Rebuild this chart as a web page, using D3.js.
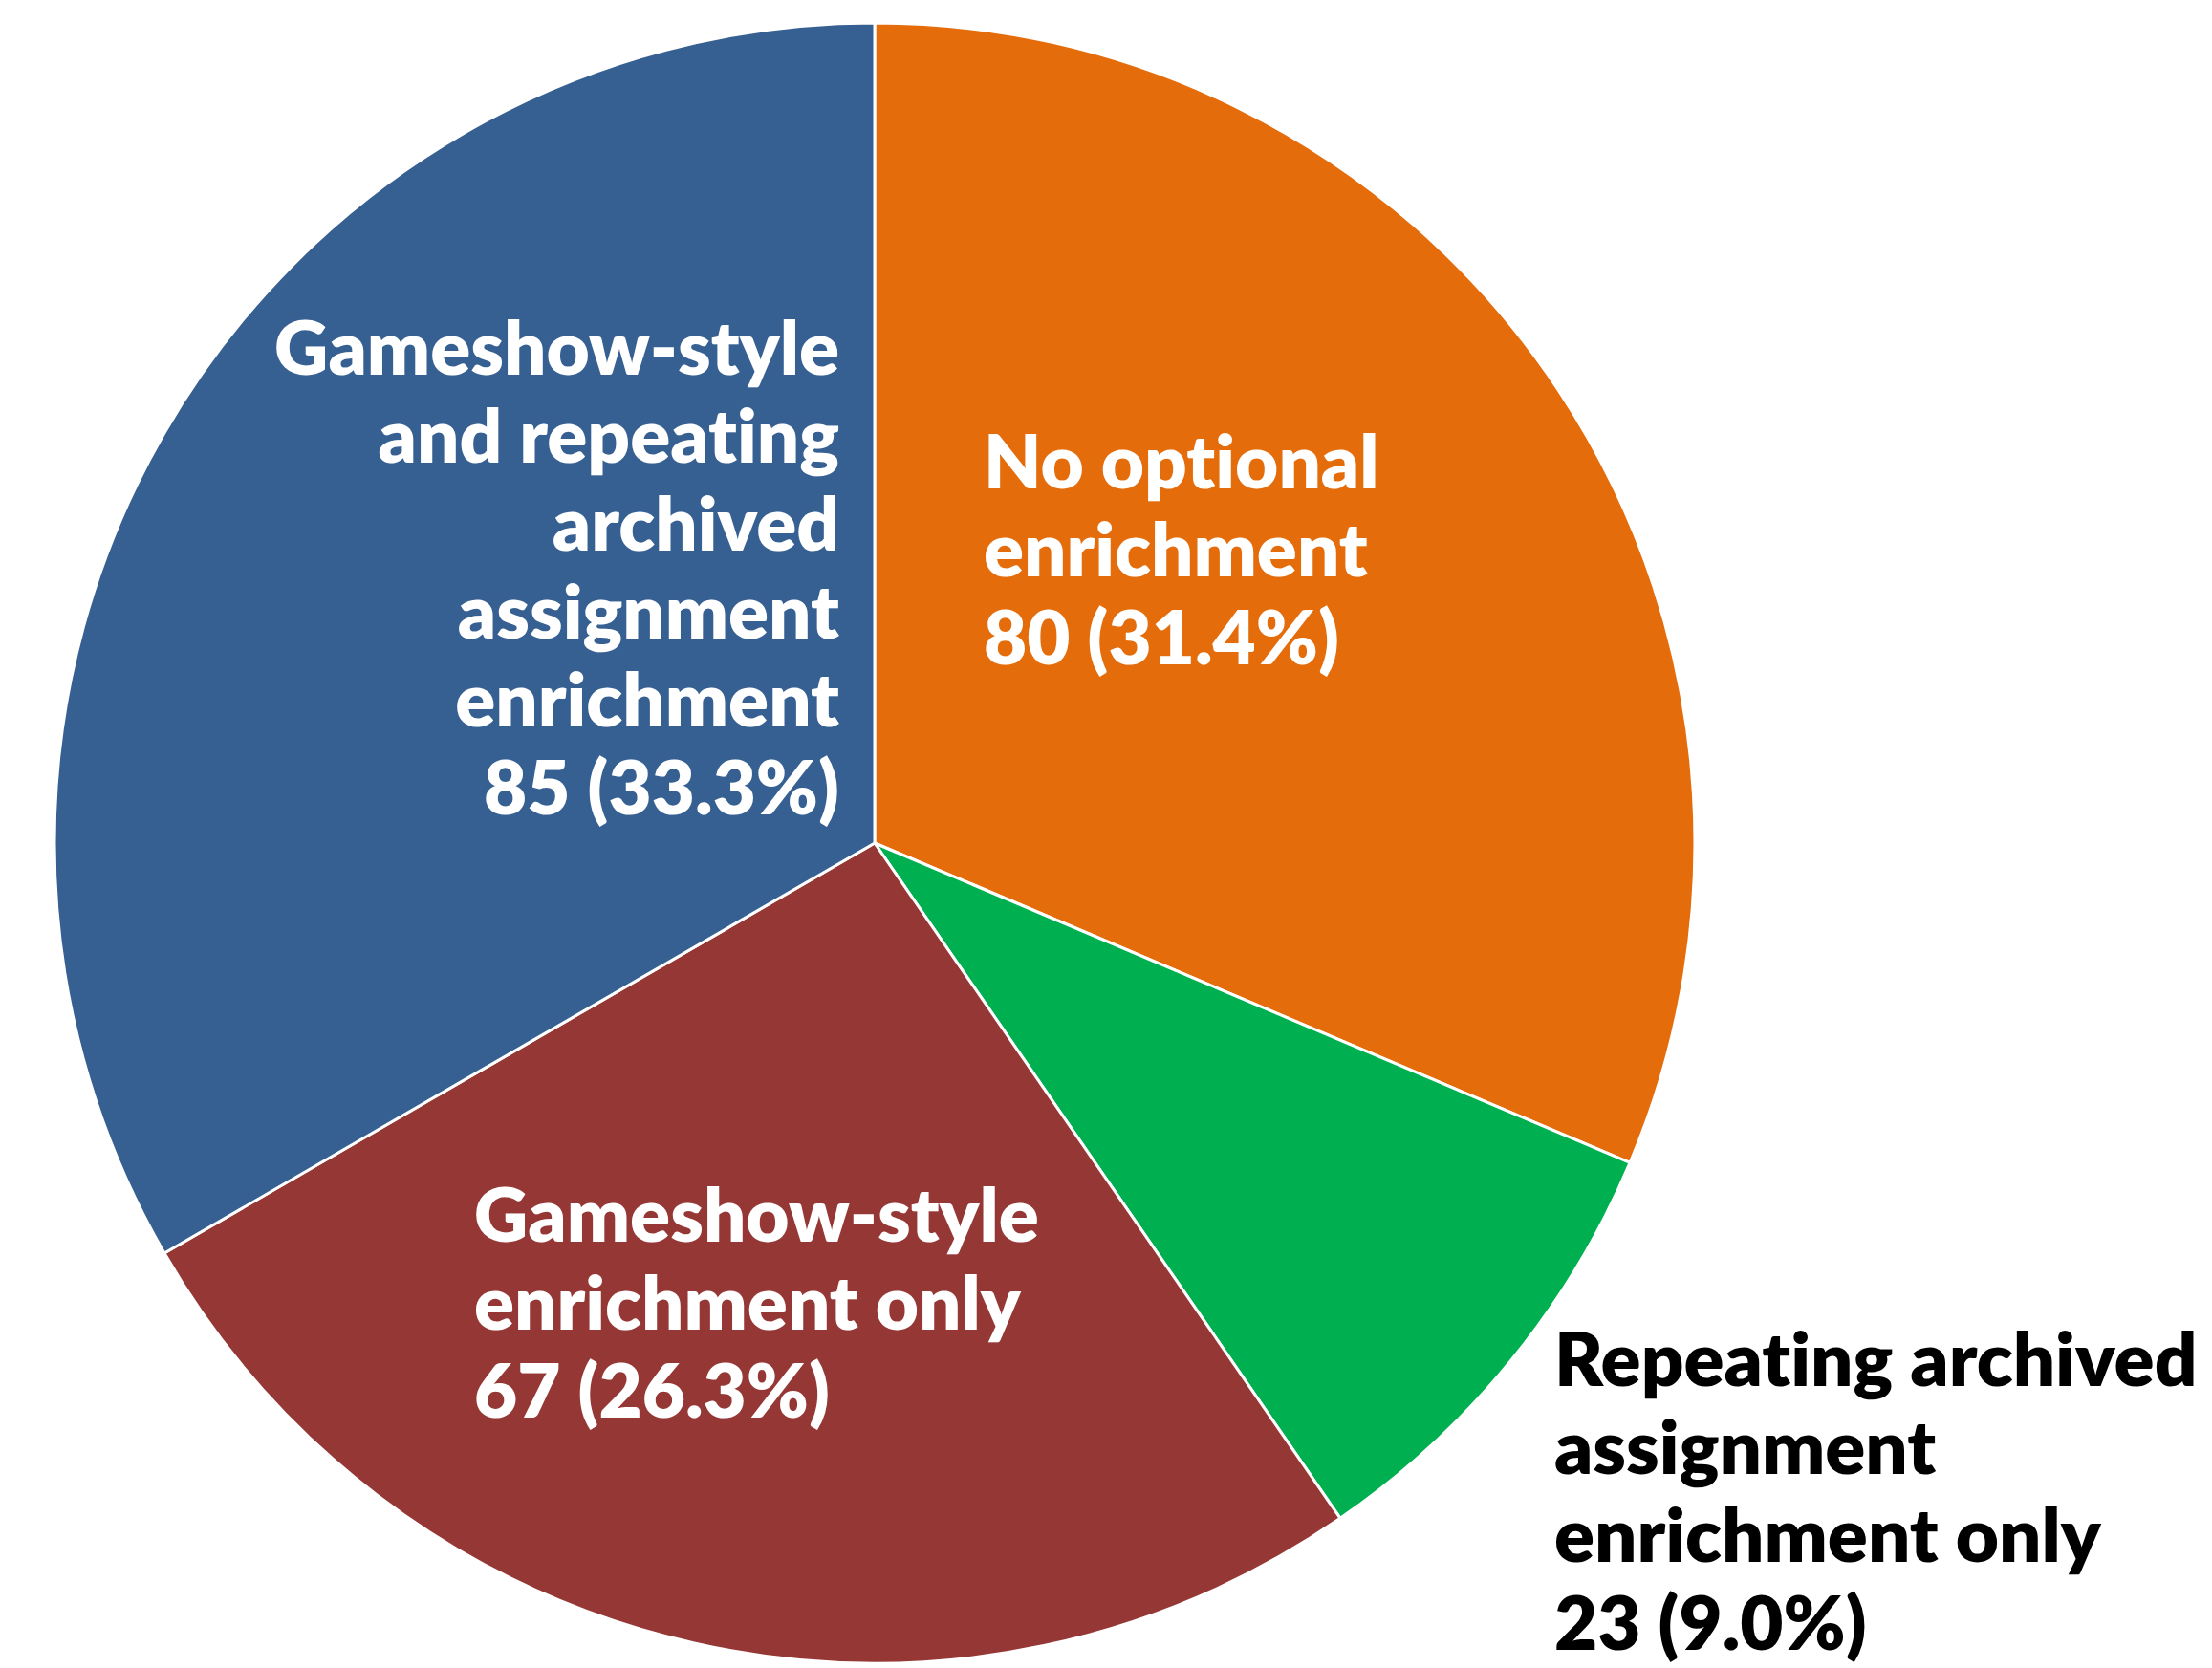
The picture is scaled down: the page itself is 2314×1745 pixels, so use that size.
<!DOCTYPE html>
<html>
<head>
<meta charset="utf-8">
<script src="https://cdn.jsdelivr.net/npm/d3@7"></script>
<style>
  html, body { margin: 0; padding: 0; background: #fff; }
  svg text {
    font-family: Lato, "Open Sans", sans-serif;
    font-weight: 800;
    font-variant-ligatures: none;
    font-feature-settings: "liga" 0, "clig" 0;
  }
</style>
</head>
<body>
<div id="chart"></div>
<script>
// Data, clockwise from 12 o'clock
const categories = [
  "No optional enrichment",
  "Repeating archived assignment enrichment only",
  "Gameshow-style enrichment only",
  "Gameshow-style and repeating archived assignment enrichment"
];
const counts = [80, 23, 67, 85];
const percents = ["31.4%", "9.0%", "26.3%", "33.3%"];
const labelLines = [
  ["No optional", "enrichment"],
  ["Repeating archived", "assignment", "enrichment only"],
  ["Gameshow-style", "enrichment only"],
  ["Gameshow-style", "and repeating", "archived", "assignment", "enrichment"]
];
const colors = ["#E46C0A", "#00B050", "#953735", "#376092"];

// Layout
const w = 2314;
const h = 1745;
const cx = 915, cy = 882, radius = 858;
const fontSize = 78;
const lineStep = 92;

// label anchor (first baseline) relative to pie centre
const labelPos = [
  { dx: 114, dy: -371, anchor: "start", fill: "#fff" },
  { dx: 711, dy: 568, anchor: "start", fill: "#000" },
  { dx: -419, dy: 417, anchor: "start", fill: "#fff" },
  { dx: -37, dy: -490, anchor: "end", fill: "#fff" }
];

const svg = d3.select("#chart")
  .append("svg")
  .attr("width", w)
  .attr("height", h);

const pie = d3.pie().sort(null).value((d) => d);
const arcs = pie(counts);

const arc = d3.arc().innerRadius(0).outerRadius(radius);

const g = svg.append("g").attr("transform", `translate(${cx},${cy})`);

g.selectAll("path")
  .data(arcs)
  .enter()
  .append("path")
  .attr("d", arc)
  .attr("fill", (d, i) => colors[i])
  .attr("stroke", "#fff")
  .attr("stroke-width", 3)
  .attr("stroke-linejoin", "round");

// Labels
const labels = g.selectAll("text.label")
  .data(arcs)
  .enter()
  .append("text")
  .attr("class", "label")
  .attr("font-size", fontSize)
  .attr("text-anchor", (d, i) => labelPos[i].anchor)
  .attr("fill", (d, i) => labelPos[i].fill)
  .attr("transform", (d, i) => `translate(${labelPos[i].dx},${labelPos[i].dy})`);

labels.each(function(d, i) {
  const lines = labelLines[i].concat([`${counts[i]} (${percents[i]})`]);
  d3.select(this)
    .selectAll("tspan")
    .data(lines)
    .enter()
    .append("tspan")
    .attr("x", 0)
    .attr("y", (l, j) => j * lineStep)
    .text((l) => l);
});
</script>
</body>
</html>
